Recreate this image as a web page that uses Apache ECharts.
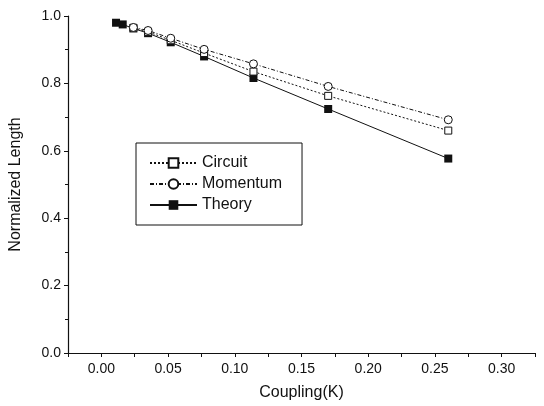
<!DOCTYPE html>
<html>
<head>
<meta charset="utf-8">
<script src="https://cdn.jsdelivr.net/npm/echarts@6/dist/echarts.min.js"></script>
<style>
  html, body { margin: 0; padding: 0; background: #fff; }
  #main { width: 544px; height: 406px; }
</style>
</head>
<body>
<div id="main"></div>
<script>
// values (null = no visible marker)
var couplingK = [0.011, 0.016, 0.024, 0.035, 0.052, 0.077, 0.114, 0.170, 0.260];
var circuit   = [null,  null,  0.965, 0.953, 0.928, 0.890, 0.835, 0.763, 0.660];
var momentum  = [null,  null,  0.966, 0.957, 0.934, 0.901, 0.858, 0.791, 0.692];
var theory    = [0.980, 0.975, 0.963, 0.949, 0.922, 0.880, 0.816, 0.724, 0.577];

function pairs(ys) {
    var out = [];
    couplingK.forEach(function (k, i) {
        if (ys[i] !== null) out.push([k, ys[i]]);
    });
    return out;
}

var dom = document.getElementById('main');
var myChart = echarts.init(dom);
var font = 'Liberation Sans, Arial, sans-serif';

option = {
    animation: false,
    textStyle: { fontFamily: font, color: '#111' },
    grid: {
        left: 67,
        right: 9,
        top: 16,
        bottom: 52
    },
    legend: {
        orient: 'vertical',
        left: 136,
        top: 143,
        data: ['Circuit', 'Momentum', 'Theory'],
        itemWidth: 47,
        itemHeight: 12,
        itemGap: 5,
        padding: [12, 20, 12, 13],
        borderColor: '#111',
        borderWidth: 1,
        backgroundColor: '#fff',
        textStyle: { fontSize: 16, color: '#111', fontFamily: font }
    },
    xAxis: {
        type: 'value',
        min: -0.025,
        max: 0.325,
        interval: 0.025,
        name: 'Coupling(K)',
        nameLocation: 'middle',
        nameGap: 32,
        nameTextStyle: { fontSize: 16, color: '#111' },
        axisLine: { onZero: false, lineStyle: { color: '#111', width: 1.2 } },
        axisTick: { length: 4, lineStyle: { color: '#111' } },
        splitLine: { show: false },
        axisLabel: {
            fontSize: 14,
            color: '#111',
            margin: 9,
            formatter: function (v) {
                var r = Math.round(v * 1000);
                return (r >= 0 && r % 50 === 0) ? v.toFixed(2) : '';
            }
        }
    },
    yAxis: {
        type: 'value',
        min: 0,
        max: 1,
        interval: 0.2,
        name: 'Normalized Length',
        nameLocation: 'middle',
        nameGap: 44,
        nameTextStyle: { fontSize: 16, color: '#111' },
        axisLine: { show: true, onZero: false, lineStyle: { color: '#111', width: 1.2 } },
        axisTick: { length: 4, lineStyle: { color: '#111' } },
        minorTick: { show: true, splitNumber: 2, length: 3, lineStyle: { color: '#111' } },
        splitLine: { show: false },
        axisLabel: {
            fontSize: 14,
            color: '#111',
            margin: 7,
            formatter: function (v) { return v.toFixed(1); }
        }
    },
    series: [
        {
            name: 'Theory',
            type: 'line',
            data: pairs(theory),
            symbol: 'rect',
            symbolSize: 8,
            lineStyle: { color: '#111', width: 1 },
            itemStyle: { color: '#111' },
            z: 2
        },
        {
            name: 'Circuit',
            type: 'line',
            data: pairs(circuit),
            symbol: 'rect',
            symbolSize: 7,
            lineStyle: { color: '#111', width: 1, type: [2, 2] },
            itemStyle: { color: '#fff', borderColor: '#111', borderWidth: 1 },
            z: 3
        },
        {
            name: 'Momentum',
            type: 'line',
            data: pairs(momentum),
            symbol: 'circle',
            symbolSize: 8,
            lineStyle: { color: '#111', width: 1, type: [4, 2, 1, 2] },
            itemStyle: { color: '#fff', borderColor: '#111', borderWidth: 1 },
            z: 4
        }
    ]
};
myChart.setOption(option);
</script>
</body>
</html>
